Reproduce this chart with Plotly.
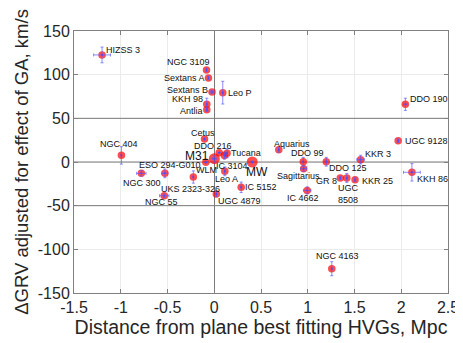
import plotly.graph_objects as go

# ---- data ----
names = ["HIZSS 3", "NGC 3109", "Sextans A", "Sextans B", "KKH 98", "Antlia", "Leo P",
         "NGC 404", "Cetus", "DDO 216", "M31", "Tucana", "IC 3104", "MW", "WLM",
         "ESO 294-G010", "NGC 300", "Leo A", "UKS 2323-326", "NGC 55", "UGC 4879",
         "IC 5152", "Aquarius", "DDO 99", "Sagittarius", "DDO 125", "GR 8", "UGC 8508",
         "KKR 25", "KKR 3", "UGC 9128", "KKH 86", "IC 4662", "DDO 190", "NGC 4163"]
distance = [-1.20, -0.083, -0.062, -0.024, -0.080, -0.080, 0.091,
            -0.993, -0.104, 0.053, 0.001, 0.137, 0.109, 0.406, -0.090,
            -0.528, -0.780, 0.113, -0.224, -0.535, 0.022,
            0.288, 0.690, 0.952, 0.956, 1.198, 1.348, 1.418,
            1.506, 1.565, 1.967, 2.114, 0.994, 2.044, 1.257]
dgrv = [122.6, 105.4, 96.2, 80.2, 66.1, 59.9, 79.4,
        7.6, 26.3, 10.7, 3.8, 10.0, 7.3, 0.0, -0.4,
        -13.0, -13.0, -10.7, -17.2, -38.6, -36.7,
        -29.0, 14.1, 0.3, -7.6, 0.3, -18.3, -18.3,
        -20.2, 2.7, 24.4, -11.8, -32.5, 66.1, -122.2]
dist_err = [0.09, 0.0, 0.0, 0.02, 0.0, 0.0, 0.0,
            0.0, 0.0, 0.0, 0.02, 0.0, 0.0, 0.0, 0.0,
            0.03, 0.05, 0.0, 0.0, 0.05, 0.0,
            0.0, 0.0, 0.0, 0.03, 0.0, 0.0, 0.0,
            0.0, 0.04, 0.0, 0.09, 0.04, 0.02, 0.0]
dgrv_err = [9, 2, 2, 2, 7, 2, 13,
            10, 0, 0, 4, 5, 4, 0, 0,
            5, 3, 5, 7, 2, 3,
            6, 3, 5, 3, 5, 2, 5,
            2, 5, 2, 10, 4, 7, 8]
x_ticks = [-1.5, -1, -0.5, 0, 0.5, 1, 1.5, 2, 2.5]
y_ticks = [-150, -100, -50, 0, 50, 100, 150]
x_range = [-1.5, 2.5]
y_range = [-150, 150]
ref_lines_y = [-50, 0, 50]
big_objects = {"M31", "MW"}

# ---- label placement (style) : anchor, x shift px, y shift px ----
label_style = {
    "HIZSS 3": ("left", 3, 5), "NGC 3109": ("right", 5, 8), "Sextans A": ("right", -2, 0),
    "Sextans B": ("right", -3, 2), "KKH 98": ("right", -3, 5), "Antlia": ("right", -3, -1),
    "Leo P": ("left", 4, 0), "NGC 404": ("center", -2, 11.5), "Cetus": ("center", -2, 6.5),
    "DDO 216": ("center", -6.5, 7), "M31": ("right", -4, 3), "Tucana": ("left", 3, 0),
    "IC 3104": ("center", 8, -10.5), "MW": ("center", 4.4, -10), "WLM": ("center", 0.5, -8),
    "ESO 294-G010": ("center", 5.5, 8.5), "NGC 300": ("center", 0.7, -10),
    "Leo A": ("center", 2, -8), "UKS 2323-326": ("center", -3, -11.7),
    "NGC 55": ("center", -3, -6), "UGC 4879": ("left", 1, -6.7), "IC 5152": ("left", 3, 0),
    "Aquarius": ("center", 13, 6), "DDO 99": ("center", 4.7, 8.4),
    "Sagittarius": ("center", -5, -7), "DDO 125": ("left", 2, -6), "GR 8": ("right", -2, -2.7),
    "UGC 8508": ("center", 1.3, -16.4), "KKR 25": ("left", 6, -1), "KKR 3": ("left", 3, 5.5),
    "UGC 9128": ("left", 6, 0), "KKH 86": ("left", 4, -6.5), "IC 4662": ("center", -4, -8),
    "DDO 190": ("left", 4, 5), "NGC 4163": ("center", 5.5, 13),
}

FONT = "Liberation Sans, Arial, Helvetica, sans-serif"
TXT = "#262626"
REF = "#7a7a7a"

sizes = [11 if n in big_objects else 7.5 for n in names]

fig = go.Figure()
# reference lines at fixed velocity levels
for yv in ref_lines_y:
    fig.add_trace(go.Scatter(
        x=x_range, y=[yv, yv], mode="lines", line=dict(color=REF, width=1),
        hoverinfo="skip", showlegend=False))
fig.add_trace(go.Scatter(
    x=distance, y=dgrv, mode="markers",
    marker=dict(color="#ff0000", size=sizes, line=dict(width=0)),
    hoverinfo="skip", showlegend=False))
fig.add_trace(go.Scatter(
    x=distance, y=dgrv, mode="markers",
    marker=dict(color="rgba(70,70,255,0.75)", size=2, line=dict(width=0)),
    error_x=dict(type="data", array=dist_err, color="rgba(90,90,255,0.7)", thickness=1, width=1.5),
    error_y=dict(type="data", array=dgrv_err, color="rgba(90,90,255,0.7)", thickness=1, width=1.5),
    hoverinfo="skip", showlegend=False))

for n, xv, yv in zip(names, distance, dgrv):
    anchor, xs, ys = label_style[n]
    big = n in big_objects
    fig.add_annotation(
        x=xv, y=yv, xref="x", yref="y", showarrow=False,
        text=n.replace("UGC 8508", "UGC<br>8508"),
        xanchor=anchor, yanchor="middle", xshift=xs, yshift=ys,
        borderpad=0,
        font=dict(family=FONT, size=12 if big else 9, color="#111111"))

fig.update_layout(
    width=463, height=343,
    margin=dict(l=66, r=16, t=23, b=58),
    paper_bgcolor="white", plot_bgcolor="white",
    font=dict(family=FONT, color=TXT),
    showlegend=False,
)
fig.update_xaxes(
    range=x_range, tickvals=x_ticks, ticktext=["%g" % v for v in x_ticks],
    showgrid=True, gridcolor="#ebebeb", gridwidth=1,
    zeroline=True, zerolinecolor=REF, zerolinewidth=1,
    showline=True, linecolor="#808080", linewidth=1, mirror="ticks",
    ticks="inside", ticklen=4, tickcolor="#808080",
    tickfont=dict(size=16, color=TXT),
    title=dict(text="Distance from plane best fitting HVGs, Mpc", font=dict(size=19.5, color=TXT), standoff=3),
)
fig.update_yaxes(
    range=y_range, tickvals=y_ticks, ticktext=["%g" % v for v in y_ticks],
    showgrid=True, gridcolor="#ebebeb", gridwidth=1,
    zeroline=False,
    showline=True, linecolor="#808080", linewidth=1, mirror="ticks",
    ticks="inside", ticklen=4, tickcolor="#808080",
    tickfont=dict(size=16, color=TXT),
    title=dict(text="ΔGRV adjusted for effect of GA, km/s", font=dict(size=18.5, color=TXT), standoff=4),
)

fig.write_html("out.html")
